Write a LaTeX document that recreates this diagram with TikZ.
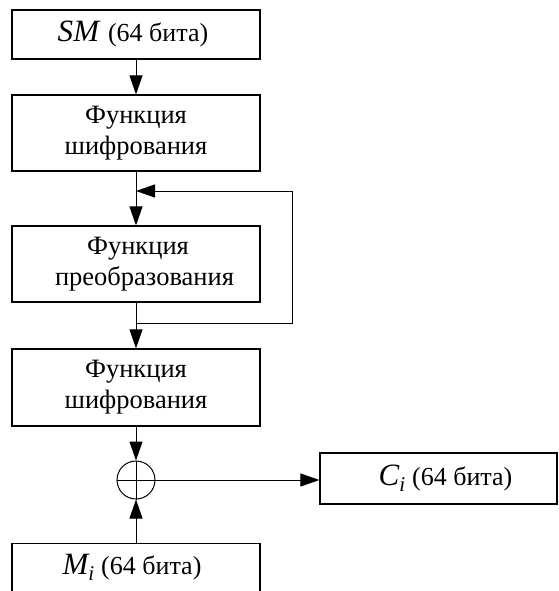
\documentclass[tikz,border=0pt]{standalone}
\usepackage{fontspec}
\setmainfont{Liberation Serif}
\usetikzlibrary{arrows.meta}
\tikzset{
  blk/.style={draw, line width=1.2pt, inner sep=0pt, minimum width=248pt, align=center,
    font=\fontsize{26.5}{31}\selectfont},
  conn/.style={line width=1pt, -{Triangle[length=19pt,width=13pt]}},
  plain/.style={line width=1pt},
}
\newcommand{\bigit}[1]{{\fontsize{31}{32}\selectfont\itshape #1}}
\newcommand{\bits}{{\fontsize{26}{30}\selectfont(64 бита)}}
\newcommand{\subi}{\raisebox{-6pt}{\fontsize{21}{22}\selectfont\itshape i}}
\begin{document}
\begin{tikzpicture}[x=1pt,y=-1pt]
\clip (0,0) rectangle (558,591);
\fill[white] (0,0) rectangle (558,591);
\node[blk, minimum height=49pt] (sm) at (136,34.5) {\bigit{SM}\hspace{9pt}\bits\hspace*{6pt}};
\node[blk, minimum height=76pt] (f1) at (136,133) {Функция\\шифрования};
\node[blk, minimum height=76pt] (f2) at (136,264) {\hspace*{4pt}Функция\\\hspace*{17pt}преобразования};
\node[blk, minimum height=77pt] (f3) at (136,387.5) {Функция\\шифрования};
\node[draw, circle, line width=1pt, minimum size=38pt, inner sep=0pt] (x) at (136,480) {};
\draw[plain] (x.north) -- (x.south) (x.west) -- (x.east);
\node[blk, minimum width=237pt, minimum height=51pt] (ci) at (438.5,478.5) {\hspace*{14pt}\bigit{C}\subi\hspace{7pt}\bits};
\node[blk, minimum height=96pt, anchor=north] (mi) at (136,543) {};
\node[inner sep=0pt] (mit) at (132,567) {\bigit{M}\subi\hspace{7pt}\bits};
\coordinate (fbj) at (136,323);
\coordinate (fbr) at (292,323);
\coordinate (fbt) at (292,191);
\coordinate (fbe) at (136,191);
\draw[conn] (sm.south) -- (f1.north);
\draw[conn] (f1.south) -- (f2.north);
\draw[conn] (f2.south) -- (f3.north);
\draw[conn] (fbj) -- (fbr) -- (fbt) -- (fbe);
\draw[conn] (f3.south) -- (x.north);
\draw[conn] (mi.north) -- (x.south);
\draw[conn] (x.east) -- (x.east -| ci.west);
\end{tikzpicture}
\end{document}
